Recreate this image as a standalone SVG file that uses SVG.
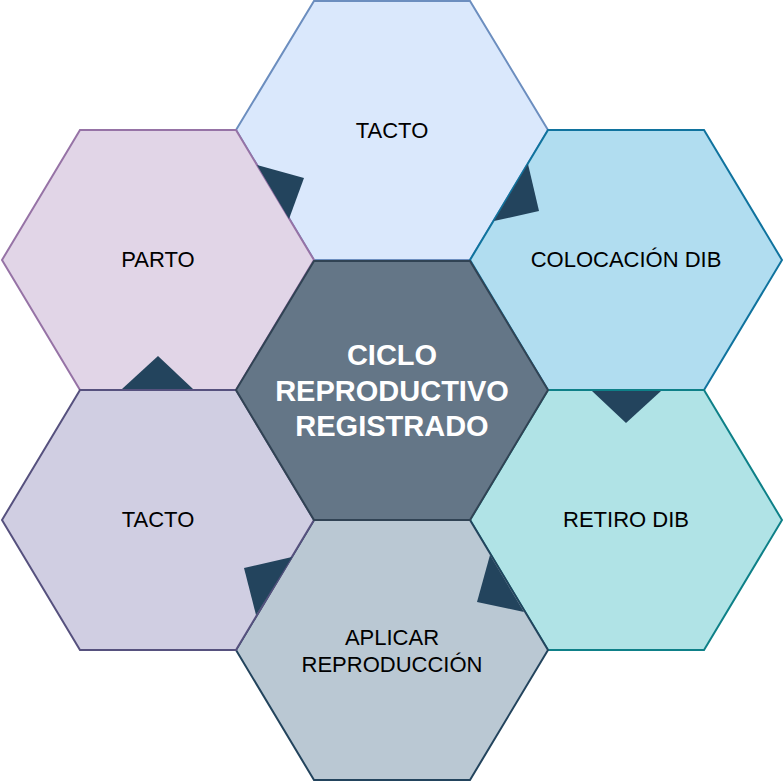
<svg xmlns="http://www.w3.org/2000/svg" width="783" height="783" viewBox="0 0 783 783">
<style>
.hex{stroke-width:2;stroke-linejoin:miter}
.lbl{font-family:"Liberation Sans",Arial,Helvetica,sans-serif;font-size:22px;fill:#000;text-anchor:middle}
.ctr{font-family:"Liberation Sans",Arial,Helvetica,sans-serif;font-size:29px;font-weight:bold;fill:#fff;text-anchor:middle}
.tri{fill:#23445d}
</style>
<g id="n-top"><polygon class="hex" fill="#dae8fc" stroke="#6c8ebf" points="236,130 314,1 470,1 548,130 470,260 314,260"/><text class="lbl" x="392" y="138">TACTO</text></g>
<g id="n-topleft"><polygon class="hex" fill="#e1d5e7" stroke="#9673a6" points="2,260 80,130 236,130 314,260 236,390 80,390"/><text class="lbl" x="158" y="267">PARTO</text></g>
<g id="n-topright"><polygon class="hex" fill="#b1ddf0" stroke="#10739e" points="470,260 548,130 704,130 782,260 704,390 548,390"/><text class="lbl" x="626" y="267">COLOCACIÓN DIB</text></g>
<g id="n-botright"><polygon class="hex" fill="#b0e3e6" stroke="#0e8088" points="470,520 548,390 704,390 782,520 704,650 548,650"/><text class="lbl" x="626" y="527">RETIRO DIB</text></g>
<g id="n-bottom"><polygon class="hex" fill="#bac8d3" stroke="#23445d" points="236,650 314,520 470,520 548,650 470,780 314,780"/><text class="lbl" x="392" y="645">APLICAR</text><text class="lbl" x="392" y="672">REPRODUCCIÓN</text></g>
<g id="n-botleft"><polygon class="hex" fill="#d0cee2" stroke="#56517e" points="2,520 80,390 236,390 314,520 236,650 80,650"/><text class="lbl" x="158" y="527">TACTO</text></g>
<g id="n-center"><polygon class="hex" fill="#647687" stroke="#314354" points="236,390 314,261 470,261 548,390 470,520 314,520"/><text class="ctr" x="392" y="365">CICLO</text><text class="ctr" x="392" y="401">REPRODUCTIVO</text><text class="ctr" x="392" y="436">REGISTRADO</text></g>
<g id="connectors">
<polygon class="tri" points="257,165 304,178 289,219"/>
<polygon class="tri" points="528,164 539,211 494,221"/>
<polygon class="tri" points="592,391 661,391 626,423"/>
<polygon class="tri" points="490,555 524,612 477,602"/>
<polygon class="tri" points="292,557 256,615 244,568"/>
<polygon class="tri" points="122,389 158,356 193,389"/>
</g>
</svg>
